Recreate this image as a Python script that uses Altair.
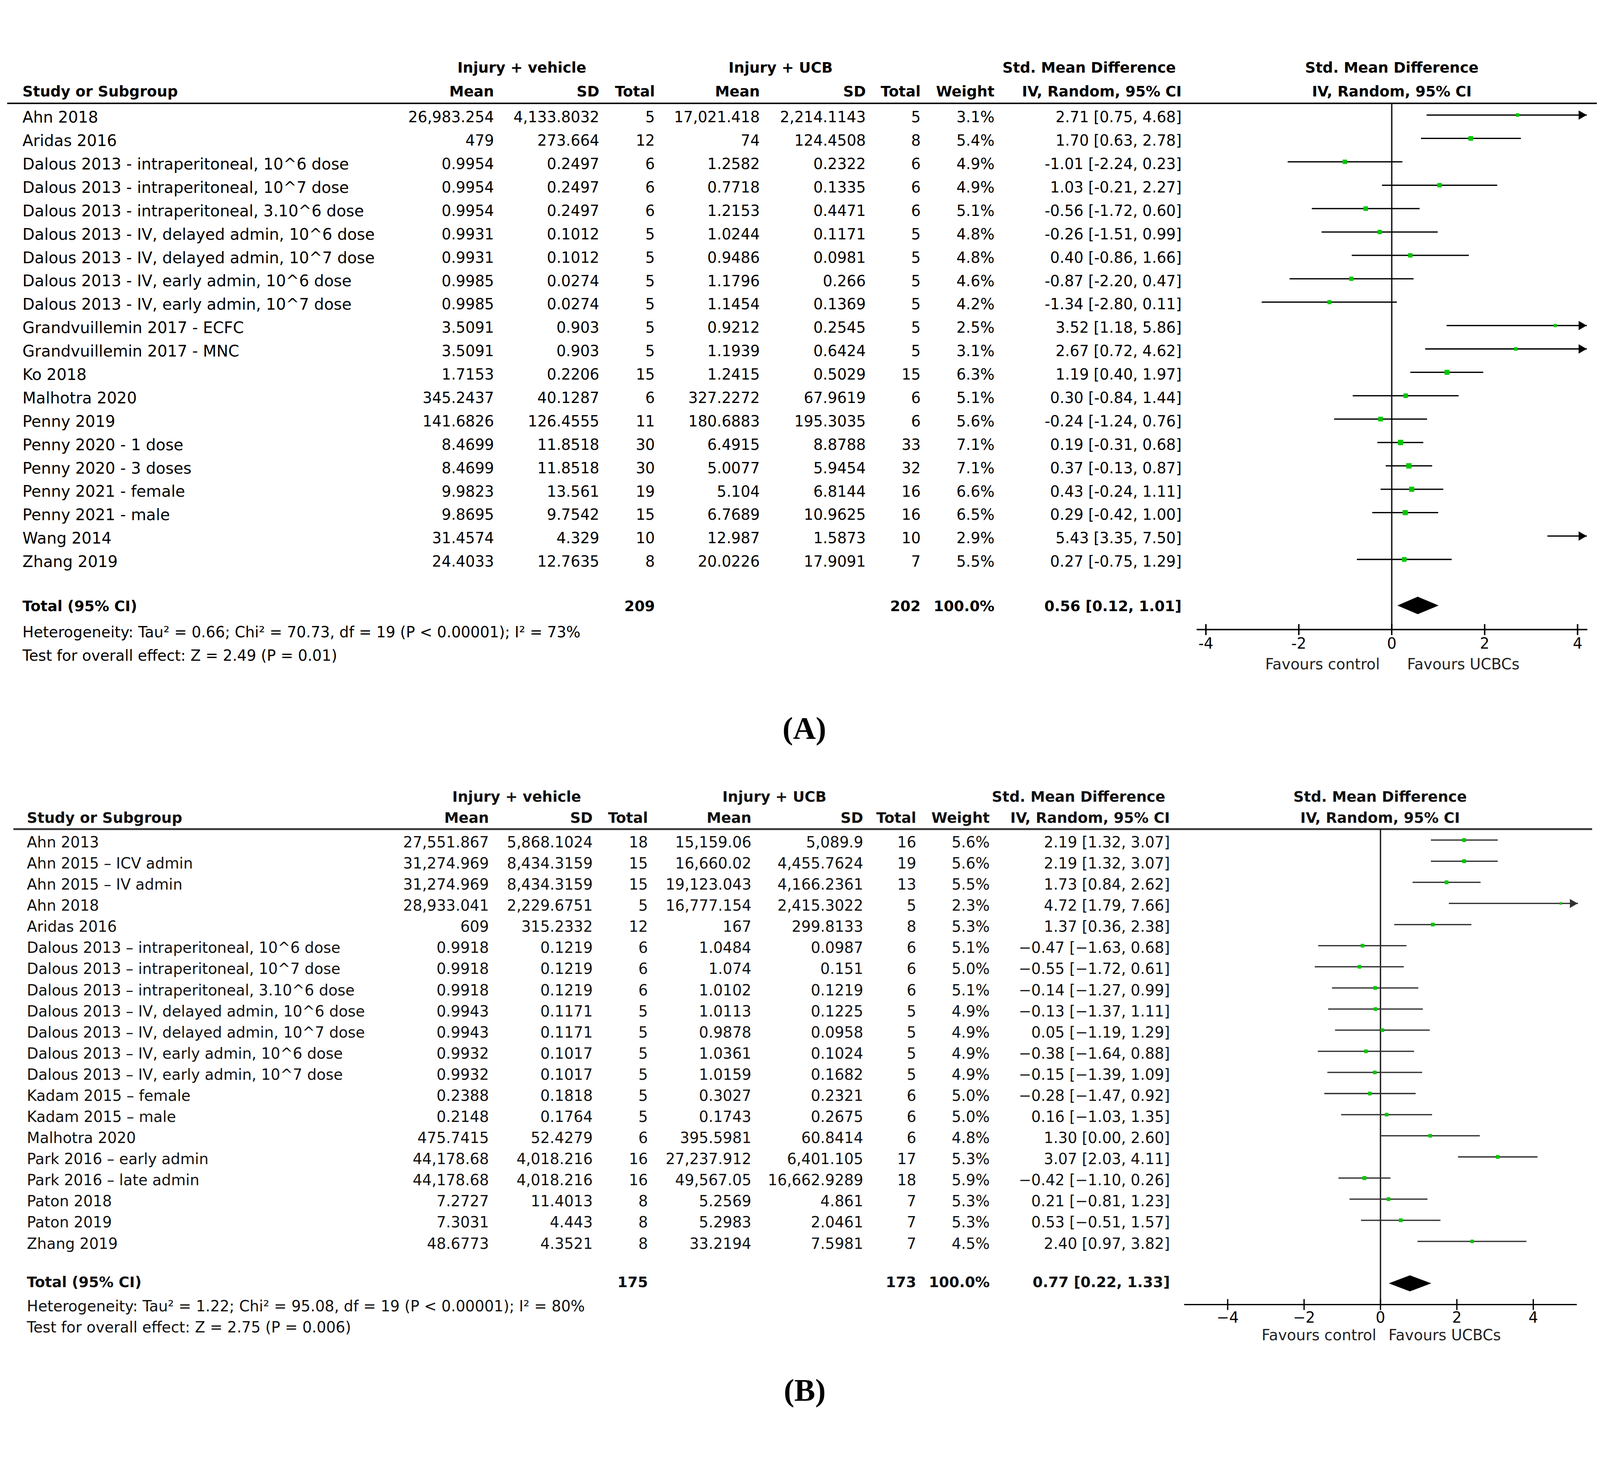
import altair as alt
import pandas as pd

# ===================== DATA : panel A =====================
A_study = [
    "Ahn 2018", "Aridas 2016",
    "Dalous 2013 - intraperitoneal, 10^6 dose",
    "Dalous 2013 - intraperitoneal, 10^7 dose",
    "Dalous 2013 - intraperitoneal, 3.10^6 dose",
    "Dalous 2013 - IV, delayed admin, 10^6 dose",
    "Dalous 2013 - IV, delayed admin, 10^7 dose",
    "Dalous 2013 - IV, early admin, 10^6 dose",
    "Dalous 2013 - IV, early admin, 10^7 dose",
    "Grandvuillemin 2017 - ECFC", "Grandvuillemin 2017 - MNC",
    "Ko 2018", "Malhotra 2020", "Penny 2019",
    "Penny 2020 - 1 dose", "Penny 2020 - 3 doses",
    "Penny 2021 - female", "Penny 2021 - male",
    "Wang 2014", "Zhang 2019",
]
A_mean_veh = ["26,983.254", "479", "0.9954", "0.9954", "0.9954", "0.9931", "0.9931", "0.9985", "0.9985",
              "3.5091", "3.5091", "1.7153", "345.2437", "141.6826", "8.4699", "8.4699", "9.9823", "9.8695",
              "31.4574", "24.4033"]
A_sd_veh = ["4,133.8032", "273.664", "0.2497", "0.2497", "0.2497", "0.1012", "0.1012", "0.0274", "0.0274",
            "0.903", "0.903", "0.2206", "40.1287", "126.4555", "11.8518", "11.8518", "13.561", "9.7542",
            "4.329", "12.7635"]
A_n_veh = [5, 12, 6, 6, 6, 5, 5, 5, 5, 5, 5, 15, 6, 11, 30, 30, 19, 15, 10, 8]
A_mean_ucb = ["17,021.418", "74", "1.2582", "0.7718", "1.2153", "1.0244", "0.9486", "1.1796", "1.1454",
              "0.9212", "1.1939", "1.2415", "327.2272", "180.6883", "6.4915", "5.0077", "5.104", "6.7689",
              "12.987", "20.0226"]
A_sd_ucb = ["2,214.1143", "124.4508", "0.2322", "0.1335", "0.4471", "0.1171", "0.0981", "0.266", "0.1369",
            "0.2545", "0.6424", "0.5029", "67.9619", "195.3035", "8.8788", "5.9454", "6.8144", "10.9625",
            "1.5873", "17.9091"]
A_n_ucb = [5, 8, 6, 6, 6, 5, 5, 5, 5, 5, 5, 15, 6, 6, 33, 32, 16, 16, 10, 7]
A_weight = [3.1, 5.4, 4.9, 4.9, 5.1, 4.8, 4.8, 4.6, 4.2, 2.5, 3.1, 6.3, 5.1, 5.6, 7.1, 7.1, 6.6, 6.5, 2.9, 5.5]
A_smd = [2.71, 1.70, -1.01, 1.03, -0.56, -0.26, 0.40, -0.87, -1.34, 3.52, 2.67, 1.19, 0.30, -0.24,
         0.19, 0.37, 0.43, 0.29, 5.43, 0.27]
A_lo = [0.75, 0.63, -2.24, -0.21, -1.72, -1.51, -0.86, -2.20, -2.80, 1.18, 0.72, 0.40, -0.84, -1.24,
        -0.31, -0.13, -0.24, -0.42, 3.35, -0.75]
A_hi = [4.68, 2.78, 0.23, 2.27, 0.60, 0.99, 1.66, 0.47, 0.11, 5.86, 4.62, 1.97, 1.44, 0.76,
        0.68, 0.87, 1.11, 1.00, 7.50, 1.29]
A_total_n = [209, 202]
A_total_est = [0.56, 0.12, 1.01]
A_het = "Heterogeneity: Tau² = 0.66; Chi² = 70.73, df = 19 (P < 0.00001); I² = 73%"
A_test = "Test for overall effect: Z = 2.49 (P = 0.01)"
A_ticks = [-4, -2, 0, 2, 4]
A_tick_labels = ["-4", "-2", "0", "2", "4"]

# ===================== DATA : panel B =====================
B_study = [
    "Ahn 2013", "Ahn 2015 – ICV admin", "Ahn 2015 – IV admin", "Ahn 2018", "Aridas 2016",
    "Dalous 2013 – intraperitoneal, 10^6 dose",
    "Dalous 2013 – intraperitoneal, 10^7 dose",
    "Dalous 2013 – intraperitoneal, 3.10^6 dose",
    "Dalous 2013 – IV, delayed admin, 10^6 dose",
    "Dalous 2013 – IV, delayed admin, 10^7 dose",
    "Dalous 2013 – IV, early admin, 10^6 dose",
    "Dalous 2013 – IV, early admin, 10^7 dose",
    "Kadam 2015 – female", "Kadam 2015 – male", "Malhotra 2020",
    "Park 2016 – early admin", "Park 2016 – late admin",
    "Paton 2018", "Paton 2019", "Zhang 2019",
]
B_mean_veh = ["27,551.867", "31,274.969", "31,274.969", "28,933.041", "609", "0.9918", "0.9918", "0.9918",
              "0.9943", "0.9943", "0.9932", "0.9932", "0.2388", "0.2148", "475.7415", "44,178.68",
              "44,178.68", "7.2727", "7.3031", "48.6773"]
B_sd_veh = ["5,868.1024", "8,434.3159", "8,434.3159", "2,229.6751", "315.2332", "0.1219", "0.1219", "0.1219",
            "0.1171", "0.1171", "0.1017", "0.1017", "0.1818", "0.1764", "52.4279", "4,018.216",
            "4,018.216", "11.4013", "4.443", "4.3521"]
B_n_veh = [18, 15, 15, 5, 12, 6, 6, 6, 5, 5, 5, 5, 5, 5, 6, 16, 16, 8, 8, 8]
B_mean_ucb = ["15,159.06", "16,660.02", "19,123.043", "16,777.154", "167", "1.0484", "1.074", "1.0102",
              "1.0113", "0.9878", "1.0361", "1.0159", "0.3027", "0.1743", "395.5981", "27,237.912",
              "49,567.05", "5.2569", "5.2983", "33.2194"]
B_sd_ucb = ["5,089.9", "4,455.7624", "4,166.2361", "2,415.3022", "299.8133", "0.0987", "0.151", "0.1219",
            "0.1225", "0.0958", "0.1024", "0.1682", "0.2321", "0.2675", "60.8414", "6,401.105",
            "16,662.9289", "4.861", "2.0461", "7.5981"]
B_n_ucb = [16, 19, 13, 5, 8, 6, 6, 6, 5, 5, 5, 5, 6, 6, 6, 17, 18, 7, 7, 7]
B_weight = [5.6, 5.6, 5.5, 2.3, 5.3, 5.1, 5.0, 5.1, 4.9, 4.9, 4.9, 4.9, 5.0, 5.0, 4.8, 5.3, 5.9, 5.3, 5.3, 4.5]
B_smd = [2.19, 2.19, 1.73, 4.72, 1.37, -0.47, -0.55, -0.14, -0.13, 0.05, -0.38, -0.15, -0.28, 0.16,
         1.30, 3.07, -0.42, 0.21, 0.53, 2.40]
B_lo = [1.32, 1.32, 0.84, 1.79, 0.36, -1.63, -1.72, -1.27, -1.37, -1.19, -1.64, -1.39, -1.47, -1.03,
        0.00, 2.03, -1.10, -0.81, -0.51, 0.97]
B_hi = [3.07, 3.07, 2.62, 7.66, 2.38, 0.68, 0.61, 0.99, 1.11, 1.29, 0.88, 1.09, 0.92, 1.35,
        2.60, 4.11, 0.26, 1.23, 1.57, 3.82]
B_total_n = [175, 173]
B_total_est = [0.77, 0.22, 1.33]
B_het = "Heterogeneity: Tau² = 1.22; Chi² = 95.08, df = 19 (P < 0.00001); I² = 80%"
B_test = "Test for overall effect: Z = 2.75 (P = 0.006)"
B_ticks = [-4, -2, 0, 2, 4]
B_tick_labels = ["−4", "−2", "0", "2", "4"]

DATA_A = dict(study=A_study, m1=A_mean_veh, s1=A_sd_veh, n1=A_n_veh, m2=A_mean_ucb, s2=A_sd_ucb,
              n2=A_n_ucb, w=A_weight, smd=A_smd, lo=A_lo, hi=A_hi, tot_n=A_total_n, tot=A_total_est,
              het=A_het, test=A_test, ticks=A_ticks, tlab=A_tick_labels, label="(A)", minus="-")
DATA_B = dict(study=B_study, m1=B_mean_veh, s1=B_sd_veh, n1=B_n_veh, m2=B_mean_ucb, s2=B_sd_ucb,
              n2=B_n_ucb, w=B_weight, smd=B_smd, lo=B_lo, hi=B_hi, tot_n=B_total_n, tot=B_total_est,
              het=B_het, test=B_test, ticks=B_ticks, tlab=B_tick_labels, label="(B)", minus="−")

# ===================== LAYOUT (reference pixels) =====================
W, H = 4360, 3738
X0, X1 = 8, 8 + W
Y0, Y1 = 8, 8 + H
LAY_A = dict(row0=186, step=64, tdy=8, fs=41, sfs=43, hfs=40,
             c_study=61, c_m1=1351, c_s1=1639, c_n1=1791, c_m2=2078, c_s2=2368, c_n2=2518, c_w=2720, c_ci=3232,
             h1_y=58, h2_y=123, h_veh=1427, h_ucb=2135, h_smd=2979, h_plot=3807,
             hl_y=154, hl_x0=19, hl_x1=X1, hl_w=4, hl_color="#000000",
             tot_y=1532, het_y=1603, test_y=1667,
             zero=3806.8, unit=127.1, clip=4.2, arrow_off=0.09, arrow_size=650,
             axis_y=1594, axis_lo=-4.2, axis_hi=4.21, tick_half=15, tl_y=1634, fav_y=1691,
             fav_x=[-1.49, 1.54], dia_y=1528, dia_h=24, sq_k=30,
             ci_color="#000000", ci_w=3.5, zero_w=4, zero_color="#222222", axis_w=4,
             lab_x=2200, lab_y=1867, text_color="#000000", fav_color="#222222")
LAY_B = dict(row0=2170, step=57.8, tdy=8, fs=41, sfs=41, hfs=40,
             c_study=73, c_m1=1337, c_s1=1621, c_n1=1772, c_m2=2055, c_s2=2361, c_n2=2506, c_w=2707, c_ci=3200,
             h1_y=2053, h2_y=2111, h_veh=1413, h_ucb=2118, h_smd=2950, h_plot=3775,
             hl_y=2140, hl_x0=36, hl_x1=4355, hl_w=5, hl_color="#333333",
             tot_y=3381, het_y=3448, test_y=3505,
             zero=3776, unit=104.5, clip=5.17, arrow_off=0.11, arrow_size=600,
             axis_y=3441, axis_lo=-5.14, axis_hi=5.14, tick_half=15, tl_y=3479, fav_y=3527,
             fav_x=[-1.61, 1.68], dia_y=3383, dia_h=22, sq_k=20,
             ci_color="#333333", ci_w=3.5, zero_w=3.5, zero_color="#111111", axis_w=3.5,
             lab_x=2201, lab_y=3678, text_color="#111111", fav_color="#222222")

FONT = "DejaVu Sans"
GREEN = "#00c800"


def panel(D, L):
    n = len(D["study"])
    ri = lambda yref: (yref - L["row0"]) / L["step"]
    ydom = [ri(Y0), ri(Y1)]

    def Y(f="y"):
        return alt.Y(f"{f}:Q", scale=alt.Scale(domain=ydom, reverse=True, nice=False, zero=False), axis=None)

    def XT(f="x"):
        return alt.X(f"{f}:Q", scale=alt.Scale(domain=[X0, X1], nice=False, zero=False), axis=None)

    fdom = [(X0 - L["zero"]) / L["unit"], (X1 - L["zero"]) / L["unit"]]

    def XF(f="v"):
        return alt.X(f"{f}:Q", scale=alt.Scale(domain=fdom, nice=False, zero=False), axis=None)

    def ci_txt(e, lo, hi):
        return f"{e:.2f} [{lo:.2f}, {hi:.2f}]".replace("-", D["minus"])

    items = []
    dyr = L["tdy"] / L["step"]
    for i in range(n):
        y = i + dyr
        items.append(dict(x=L["c_study"], y=y, t=D["study"][i], a="left", b=False, s=L["sfs"]))
        for key, col in [("m1", "c_m1"), ("s1", "c_s1"), ("n1", "c_n1"), ("m2", "c_m2"),
                         ("s2", "c_s2"), ("n2", "c_n2")]:
            items.append(dict(x=L[col], y=y, t=str(D[key][i]), a="right", b=False, s=L["fs"]))
        items.append(dict(x=L["c_w"], y=y, t=f"{D['w'][i]:.1f}%", a="right", b=False, s=L["fs"]))
        items.append(dict(x=L["c_ci"], y=y, t=ci_txt(D["smd"][i], D["lo"][i], D["hi"][i]), a="right", b=False,
                          s=L["fs"]))
    y1, y2 = ri(L["h1_y"]), ri(L["h2_y"])
    for t, x in [("Injury + vehicle", L["h_veh"]), ("Injury + UCB", L["h_ucb"]),
                 ("Std. Mean Difference", L["h_smd"]), ("Std. Mean Difference", L["h_plot"])]:
        items.append(dict(x=x, y=y1, t=t, a="center", b=True, s=L["hfs"]))
    items.append(dict(x=L["c_study"], y=y2, t="Study or Subgroup", a="left", b=True, s=L["hfs"]))
    for t, col in [("Mean", "c_m1"), ("SD", "c_s1"), ("Total", "c_n1"), ("Mean", "c_m2"), ("SD", "c_s2"),
                   ("Total", "c_n2"), ("Weight", "c_w"), ("IV, Random, 95% CI", "c_ci")]:
        items.append(dict(x=L[col], y=y2, t=t, a="right", b=True, s=L["hfs"]))
    items.append(dict(x=L["h_plot"], y=y2, t="IV, Random, 95% CI", a="center", b=True, s=L["hfs"]))
    yt = ri(L["tot_y"])
    items.append(dict(x=L["c_study"], y=yt, t="Total (95% CI)", a="left", b=True, s=L["hfs"]))
    items.append(dict(x=L["c_n1"], y=yt, t=str(D["tot_n"][0]), a="right", b=True, s=L["hfs"]))
    items.append(dict(x=L["c_n2"], y=yt, t=str(D["tot_n"][1]), a="right", b=True, s=L["hfs"]))
    items.append(dict(x=L["c_w"], y=yt, t="100.0%", a="right", b=True, s=L["hfs"]))
    items.append(dict(x=L["c_ci"], y=yt, t=ci_txt(*D["tot"]), a="right", b=True, s=L["hfs"]))
    items.append(dict(x=L["c_study"], y=ri(L["het_y"]), t=D["het"], a="left", b=False, s=L["fs"]))
    items.append(dict(x=L["c_study"], y=ri(L["test_y"]), t=D["test"], a="left", b=False, s=L["fs"]))
    tdf = pd.DataFrame(items)

    layers = []
    for a in ["left", "right", "center"]:
        for b in [False, True]:
            for s in sorted(tdf["s"].unique()):
                sub = tdf[(tdf.a == a) & (tdf.b == b) & (tdf.s == s)]
                if len(sub) == 0:
                    continue
                layers.append(alt.Chart(sub).mark_text(
                    align=a, baseline="middle", font=FONT, fontSize=float(s),
                    fontWeight=("bold" if b else "normal"), color=L["text_color"]
                ).encode(x=XT(), y=Y(), text="t:N"))

    hl = pd.DataFrame(dict(x=[L["hl_x0"]], x2=[L["hl_x1"]], y=[ri(L["hl_y"])]))
    layers.append(alt.Chart(hl).mark_rule(color=L["hl_color"], strokeWidth=L["hl_w"]).encode(
        x=XT(), x2="x2", y=Y()))

    lab = pd.DataFrame(dict(x=[L["lab_x"]], y=[ri(L["lab_y"])], t=[D["label"]]))
    layers.append(alt.Chart(lab).mark_text(align="center", baseline="middle", font="Liberation Serif",
                                           fontSize=86, fontWeight="bold", color="#000").encode(
        x=XT(), y=Y(), text="t:N"))

    fd = pd.DataFrame(dict(y=list(range(n)), smd=D["smd"], lo=D["lo"], hi=D["hi"], w=D["w"]))
    fd["hi_c"] = fd["hi"].clip(upper=L["clip"])
    fd["sz"] = fd["w"] * L["sq_k"]
    axis_i = ri(L["axis_y"])

    zl = pd.DataFrame(dict(v=[0], y=[ri(L["hl_y"])], y2=[axis_i]))
    layers.append(alt.Chart(zl).mark_rule(color=L["zero_color"], strokeWidth=L["zero_w"]).encode(
        x=XF(), y=Y(), y2="y2"))

    layers.append(alt.Chart(fd).mark_rule(color=L["ci_color"], strokeWidth=L["ci_w"]).encode(
        x=XF("lo"), x2="hi_c", y=Y()))

    sq = fd[fd["smd"] <= L["clip"]]
    layers.append(alt.Chart(sq).mark_square(filled=True, color=GREEN, opacity=1).encode(
        x=XF("smd"), y=Y(), size=alt.Size("sz:Q", scale=None, legend=None)))

    ar = fd[fd["hi"] > L["clip"]].copy()
    ar["xa"] = L["clip"] - L["arrow_off"]
    layers.append(alt.Chart(ar).mark_point(shape="triangle-right", filled=True, color=L["ci_color"],
                                           opacity=1, size=L["arrow_size"]).encode(x=XF("xa"), y=Y()))

    e, lo, hi = D["tot"]
    ty, h = ri(L["dia_y"]), L["dia_h"] / L["step"]
    dd = pd.DataFrame(dict(v=[lo, e, hi], y=[ty, ty - h, ty], y2=[ty, ty + h, ty]))
    layers.append(alt.Chart(dd).mark_area(color="#000000", orient="vertical", opacity=1).encode(
        x=XF(), y=Y(), y2="y2"))

    axl = pd.DataFrame(dict(v=[L["axis_lo"]], v2=[L["axis_hi"]], y=[axis_i]))
    layers.append(alt.Chart(axl).mark_rule(color="#000000", strokeWidth=L["axis_w"]).encode(
        x=XF(), x2="v2", y=Y()))

    th = L["tick_half"] / L["step"]
    nt = len(D["ticks"])
    tk = pd.DataFrame(dict(v=D["ticks"], y=[axis_i - th] * nt, y2=[axis_i + th] * nt,
                           t=D["tlab"], yl=[ri(L["tl_y"])] * nt))
    layers.append(alt.Chart(tk).mark_rule(color="#000000", strokeWidth=L["axis_w"]).encode(
        x=XF(), y=Y(), y2="y2"))
    layers.append(alt.Chart(tk).mark_text(align="center", baseline="middle", font=FONT, fontSize=L["fs"],
                                          color="#000").encode(x=XF(), y=Y("yl"), text="t:N"))

    fav = pd.DataFrame(dict(v=L["fav_x"], y=[ri(L["fav_y"])] * 2, t=["Favours control", "Favours UCBCs"]))
    layers.append(alt.Chart(fav).mark_text(align="center", baseline="middle", font=FONT, fontSize=L["fs"],
                                           color=L["fav_color"]).encode(x=XF(), y=Y(), text="t:N"))
    return layers


chart = alt.layer(*(panel(DATA_A, LAY_A) + panel(DATA_B, LAY_B))).resolve_scale(
    x="independent", y="independent"
).properties(
    width=W, height=H, padding=0, background="white",
    autosize=alt.AutoSizeParams(type="none"),
).configure_view(stroke=None)

chart.save("out.html", embed_options={"renderer": "svg", "actions": False})
